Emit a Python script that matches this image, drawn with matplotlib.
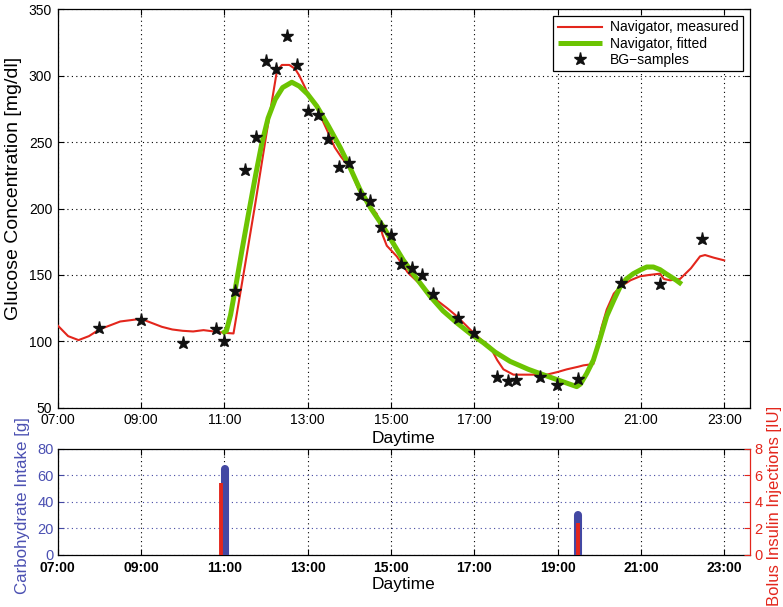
import matplotlib
matplotlib.use('Agg')
import matplotlib.pyplot as plt

plt.rcParams['font.family'] = ['Liberation Sans', 'DejaVu Sans']

# ---------------- data ----------------
hour_ticks = [7, 9, 11, 13, 15, 17, 19, 21, 23]
hour_labels = ['07:00', '09:00', '11:00', '13:00', '15:00', '17:00', '19:00', '21:00', '23:00']
glucose_ticks = [50, 100, 150, 200, 250, 300, 350]
carb_ticks = [0, 20, 40, 60, 80]
insulin_ticks = [0, 2, 4, 6, 8]

measured_t = [7.0, 7.25, 7.5, 7.75, 8.0, 8.25, 8.5, 8.75, 9.0, 9.25, 9.5, 9.75, 10.0, 10.25,
              10.5, 10.75, 11.0, 11.22, 11.5, 11.75, 12.0, 12.26, 12.38, 12.56, 12.7, 12.8,
              13.0, 13.2, 13.45, 13.65, 13.8, 14.0, 14.2, 14.38, 14.55, 14.66, 14.8, 14.9,
              15.14, 15.4, 15.6, 15.78, 16.1, 16.35, 16.58, 16.9, 17.14, 17.38, 17.55, 17.7,
              17.94, 18.3, 18.74, 19.0, 19.22, 19.5, 19.62, 19.86, 19.95, 20.05, 20.18, 20.35,
              20.5, 20.75, 20.98, 21.2, 21.46, 21.55, 21.7, 21.94, 22.2, 22.42, 22.54, 22.75, 23.0]
measured_g = [112, 104, 101, 104, 109, 112, 115, 116, 117, 114, 111, 109, 108, 107.5,
              108.5, 107.5, 106.5, 106, 158, 205, 254, 303, 308, 308, 305, 300,
              287, 277, 260, 246, 239, 231, 216, 206, 200, 196, 180, 172,
              164, 152, 146, 141, 131, 125, 119, 109, 102, 96, 86, 79,
              75, 75, 75, 77, 79, 81, 82, 83, 95, 110, 124, 136,
              141, 146, 149, 150, 151, 147, 146, 147, 155, 164, 165, 163, 161]

fitted_t = [10.95, 11.05, 11.15, 11.26, 11.42, 11.58, 11.75, 11.9, 12.05, 12.22, 12.4, 12.62,
            12.8, 13.0, 13.22, 13.5, 13.78, 14.0, 14.26, 14.5, 14.82, 15.05, 15.3, 15.6,
            15.94, 16.25, 16.58, 16.9, 17.22, 17.5, 17.86, 18.3, 18.74, 19.1, 19.46, 19.55,
            19.7, 19.86, 20.0, 20.18, 20.35, 20.5, 20.65, 20.82, 21.0, 21.14, 21.3, 21.46,
            21.6, 21.7, 21.85, 21.98]
fitted_g = [106, 108, 120, 139, 168, 196, 225, 249, 268, 282, 291, 295,
            292, 286, 277, 262, 246, 232, 214, 201, 186, 174, 161, 148,
            134, 123, 114, 106, 99, 92, 85, 79, 74, 70, 66, 68,
            76, 86, 100, 119, 131, 141, 147, 151, 154, 156, 156, 154,
            151, 149, 146, 143]

bg_t = [8.0, 9.0, 10.0, 10.8, 11.0, 11.25, 11.5, 11.75, 12.0, 12.25, 12.5, 12.75, 13.0,
        13.25, 13.5, 13.75, 14.0, 14.25, 14.5, 14.75, 15.0, 15.25, 15.5, 15.75, 16.0,
        16.6, 17.0, 17.55, 17.82, 18.0, 18.58, 18.98, 19.5, 20.53, 21.45, 22.46]
bg_g = [110, 116, 99, 109, 100, 138, 229, 254, 311, 305, 330, 308, 273,
        270, 252, 231, 234, 210, 206, 186, 180, 158, 155, 150, 136,
        118, 106, 73, 70, 71, 73, 67, 72, 144, 143, 177]

carb_t = [11.02, 19.5]
carb_g = [65, 30]
insulin_t = [10.93, 19.5]
insulin_u = [5.4, 2.4]

# ---------------- style ----------------
RED = '#e3261c'
GREEN = '#6cc402'
BLUE = '#4348a3'
BLUE_TXT = '#4b50b2'
XLIM = (7, 23.62)
grid_ls = (0, (1, 3))

fig = plt.figure(figsize=(7.83, 6.07), dpi=100)

# ---------------- top axes ----------------
ax = fig.add_axes([0.0737, 0.328, 0.8842, 0.657])
ax.plot(measured_t, measured_g, color=RED, lw=1.5, label='Navigator, measured', zorder=3)
ax.plot(fitted_t, fitted_g, color=GREEN, lw=3.6, label='Navigator, fitted', zorder=4,
        solid_joinstyle='round', solid_capstyle='butt')
ax.plot(bg_t, bg_g, linestyle='none', marker='*', color='#111111', markersize=9.5,
        label='BG\u2212samples', zorder=5)
ax.set_xlim(*XLIM)
ax.set_ylim(50, 350)
ax.set_xticks(hour_ticks)
ax.set_xticklabels(hour_labels)
ax.set_yticks(glucose_ticks)
ax.tick_params(direction='in', top=True, right=True, length=4, width=0.8,
               labelsize=10, pad=4)
ax.grid(True, color='black', linestyle=grid_ls, linewidth=0.8)
for s in ax.spines.values():
    s.set_linewidth(0.9)
ax.set_xlabel('Daytime', fontsize=12.5)
ax.xaxis.set_label_coords(0.5, -0.058)
ax.set_ylabel('Glucose Concentration [mg/dl]', fontsize=14)
ax.yaxis.set_label_coords(-0.052, 0.55)
leg = ax.legend(loc='upper right', bbox_to_anchor=(0.99, 0.982), fontsize=10,
                frameon=True, fancybox=False, framealpha=1, edgecolor='black',
                handlelength=3.2, borderpad=0.3, labelspacing=0.15, handletextpad=0.6,
                borderaxespad=0)
leg.get_frame().set_linewidth(0.9)

# ---------------- bottom axes ----------------
ax2 = fig.add_axes([0.0737, 0.0857, 0.8842, 0.1746])
for t, v in zip(carb_t, carb_g):
    ax2.plot([t, t], [0, v], color=BLUE, lw=5.8, solid_capstyle='round', zorder=3)
ax2.set_xlim(*XLIM)
ax2.set_ylim(0, 80)
ax2.set_xticks(hour_ticks)
ax2.set_xticklabels(hour_labels, fontweight='bold')
ax2.set_yticks(carb_ticks)
ax2.tick_params(axis='x', direction='in', top=True, length=4, width=0.8, labelsize=10, pad=4)
ax2.tick_params(axis='y', direction='in', length=4, width=0.8, labelsize=10.5,
                colors=BLUE, labelcolor=BLUE_TXT, pad=3)
ax2.xaxis.grid(True, color='black', linestyle=grid_ls, linewidth=0.8)
ax2.yaxis.grid(True, color=BLUE, linestyle=grid_ls, linewidth=0.8)
ax2.spines['right'].set_visible(False)
for s in ['left', 'top', 'bottom']:
    ax2.spines[s].set_linewidth(0.9)
ax2.set_xlabel('Daytime', fontsize=12.5)
ax2.xaxis.set_label_coords(0.5, -0.205)
ax2.set_ylabel('Carbohydrate Intake [g]', fontsize=12.2, color=BLUE_TXT)
ax2.yaxis.set_label_coords(-0.040, 0.47)

ax2r = ax2.twinx()
for t, u in zip(insulin_t, insulin_u):
    ax2r.plot([t, t], [0, u], color=RED, lw=2.8, solid_capstyle='butt', zorder=4)
ax2r.set_xlim(*XLIM)
ax2r.set_ylim(0, 8)
ax2r.set_yticks(insulin_ticks)
ax2r.tick_params(axis='y', direction='in', length=4, width=0.8, labelsize=10.5,
                 colors=RED, pad=3)
ax2r.spines['right'].set_color(RED)
ax2r.spines['right'].set_linewidth(0.9)
ax2r.spines['left'].set_visible(False)
ax2r.spines['top'].set_visible(False)
ax2r.spines['bottom'].set_visible(False)
ax2r.set_ylabel('Bolus Insulin Injections [IU]', fontsize=12, color=RED)
ax2r.yaxis.set_label_coords(1.0246, 0.46)

fig.savefig('out.png', dpi=100)
